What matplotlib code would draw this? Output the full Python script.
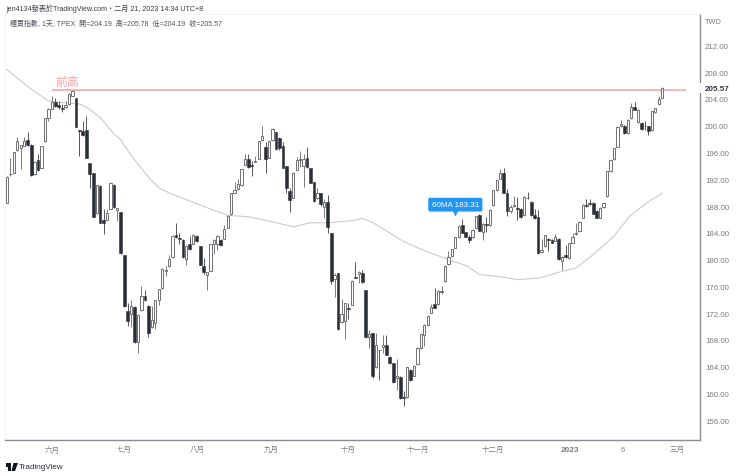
import numpy as np
import matplotlib
matplotlib.use("Agg")
import matplotlib.pyplot as plt
from matplotlib.patches import Rectangle, Polygon

plt.rcParams['font.family'] = ['Liberation Sans', 'Noto Sans CJK TC', 'DejaVu Sans']

opens = [
188.4,192.75,193.0,196.4,196.7,196.9,197.85,197.1,192.75,194.85,
193.75,197.65,201.1,202.5,203.5,203.15,202.6,202.75,203.25,204.5,
204.1,199.35,199.15,199.35,194.45,193.0,186.9,191.0,185.95,185.9,
187.6,191.1,187.4,187.15,180.7,172.25,171.9,172.9,167.75,172.4,
174.6,173.1,169.85,170.5,173.9,175.75,178.3,179.0,180.4,183.65,
183.15,182.9,180.15,182.35,182.35,183.5,182.0,179.0,177.75,178.35,
182.25,182.35,182.9,183.1,184.75,186.75,190.0,190.5,191.1,194.15,
195.1,194.1,194.65,195.1,197.9,196.75,195.25,197.85,199.0,198.1,
197.0,194.0,190.25,189.25,193.4,194.9,194.0,195.25,193.75,191.65,
189.15,189.9,187.9,188.6,183.9,177.15,177.95,170.65,170.8,172.75,
173.2,177.4,177.9,178.05,175.45,168.45,168.95,163.9,166.55,166.95,
167.3,165.45,164.55,162.3,162.45,159.4,159.4,163.55,162.65,164.4,
166.8,168.65,170.15,172.05,173.3,173.3,175.2,176.8,179.3,180.55,
181.8,183.3,185.2,184.05,183.3,183.3,184.65,186.65,184.05,185.3,
185.15,188.1,190.35,192.1,193.0,190.0,187.25,188.0,187.75,187.6,
186.6,189.25,188.6,186.65,186.35,181.1,182.0,183.1,182.95,182.8,
183.1,179.75,180.75,180.25,182.5,183.85,184.25,186.25,188.2,188.4,
188.5,187.25,186.25,187.85,189.5,193.25,195.0,196.85,199.9,200.0,
198.85,201.15,202.75,200.5,200.4,200.0,199.9,199.35,202.0,203.25,204.19]
closes = [
192.4,192.85,196.0,197.75,197.1,197.65,197.1,192.6,194.65,193.35,
196.9,201.1,202.5,203.6,203.0,202.75,202.5,203.15,204.8,205.25,
199.75,199.25,198.6,195.25,192.85,186.4,191.1,185.5,185.5,187.0,
191.5,187.85,187.65,181.0,173.0,170.75,173.1,167.7,171.75,174.5,
173.9,169.0,170.9,173.9,175.65,178.65,178.4,180.1,183.5,183.4,
183.0,180.35,182.0,181.6,183.6,182.75,179.25,178.1,178.1,182.35,
182.9,183.5,182.1,184.5,186.5,189.9,190.4,191.25,193.6,195.0,
193.9,194.0,194.75,197.65,198.5,195.1,197.75,199.5,196.5,196.6,
193.75,190.75,188.9,193.0,194.85,195.0,195.0,193.9,191.5,188.75,
190.0,188.25,188.6,184.9,176.75,177.75,169.55,171.85,173.45,172.55,
176.85,177.3,178.15,176.65,168.4,168.9,162.55,167.3,166.45,167.2,
165.8,164.55,161.65,162.55,159.25,159.25,163.9,161.95,164.15,166.8,
168.8,170.2,171.55,172.85,172.8,175.3,175.3,179.05,180.4,181.55,
183.3,185.05,183.95,183.4,182.9,184.4,186.45,184.3,185.3,185.15,
187.4,190.35,191.85,192.9,190.0,187.25,187.85,188.1,187.5,186.35,
189.35,189.15,186.6,186.15,181.0,181.5,183.6,182.85,182.5,183.35,
180.1,180.4,180.35,182.5,183.4,184.0,185.6,188.15,188.05,188.25,
186.85,186.25,187.75,188.5,193.2,194.85,196.6,199.85,200.25,198.9,
200.85,202.75,202.4,202.4,199.5,199.9,199.15,202.15,202.6,204.0,205.57]
highs = [
192.5,195.25,196.0,198.25,197.1,198.25,199.0,197.25,194.75,195.75,
197.0,201.1,202.6,204.4,204.1,203.75,203.25,203.75,204.85,205.35,
204.1,199.35,200.75,201.5,194.45,193.0,191.1,191.1,187.5,187.5,
191.6,191.25,187.75,187.15,180.75,173.5,174.0,173.0,171.9,176.1,
175.5,173.25,173.0,174.0,175.65,178.75,179.1,180.75,183.6,185.4,
184.0,183.0,182.1,183.5,183.85,183.6,182.0,180.25,178.1,182.35,
183.0,183.6,183.0,185.1,186.6,190.0,191.6,192.0,193.6,195.75,
195.85,194.75,195.5,197.75,200.0,197.5,197.9,199.6,199.1,198.25,
197.6,194.0,190.75,193.1,195.35,196.25,195.75,196.75,193.75,191.65,
190.75,190.0,189.0,189.6,183.9,178.0,178.05,174.15,173.55,173.55,
176.95,179.7,178.3,178.4,175.45,169.45,169.05,168.95,166.55,168.65,
168.65,165.55,164.55,165.15,162.55,160.3,164.0,163.65,164.25,166.9,
168.9,170.3,171.65,173.4,175.8,175.4,176.05,179.15,181.3,181.65,
183.4,185.15,186.05,184.15,183.65,184.55,186.55,186.8,185.4,186.3,
187.55,190.45,191.95,193.5,193.75,190.6,188.1,189.5,189.4,187.7,
189.45,190.1,188.7,187.5,187.4,183.1,183.7,183.25,183.1,183.85,
183.2,180.5,182.1,182.5,183.9,185.4,185.7,188.25,189.1,189.0,
188.6,187.35,187.85,188.6,193.3,194.95,196.7,199.95,200.9,200.1,
200.95,203.4,203.6,202.5,200.6,200.75,200.0,202.25,202.7,204.4,205.78]
lows = [
188.4,192.5,192.9,196.25,193.5,196.9,197.0,192.5,192.65,193.25,
193.65,197.6,200.75,202.5,202.75,202.5,202.1,202.7,203.15,204.4,
199.75,195.5,198.5,195.2,190.75,186.35,186.75,185.5,183.85,185.85,
187.5,187.75,185.75,180.9,172.9,170.1,169.9,167.6,166.1,172.25,
173.75,168.35,169.75,169.6,173.25,175.65,177.5,178.9,180.25,183.25,
182.25,180.25,179.15,181.5,182.25,182.65,179.15,177.9,175.5,178.25,
180.9,181.5,182.0,183.0,184.75,186.65,189.9,190.35,191.0,194.1,
193.75,192.5,194.6,195.0,197.85,193.0,195.15,197.75,196.4,196.4,
193.7,189.9,187.15,189.2,193.35,193.9,190.9,193.75,191.4,188.65,
189.0,188.0,186.15,184.0,176.35,174.35,169.45,170.55,168.15,171.05,
173.15,177.3,176.55,176.55,168.3,166.8,162.3,163.8,161.95,166.05,
165.75,164.45,161.55,160.55,159.15,158.15,159.3,161.8,162.55,164.3,
166.7,167.05,170.05,171.95,172.7,173.2,174.8,176.7,179.2,180.45,
181.7,183.2,183.9,183.3,182.4,183.2,184.55,184.2,182.9,184.05,
185.05,188.0,190.25,192.0,189.9,186.5,186.9,187.9,185.9,186.25,
186.5,189.0,186.5,186.0,180.85,181.0,181.9,181.35,182.4,182.7,
180.0,178.4,180.25,180.15,182.4,183.65,184.15,186.15,187.9,188.15,
186.75,186.15,186.15,187.75,189.4,193.15,194.9,196.75,199.8,198.8,
198.75,201.05,202.3,200.4,199.4,199.4,198.6,199.25,201.9,203.15,204.19]

ma_index = [0,3.9,7.6,12,15,18,21,23.1,27,30.8,32.8,35.7,38.6,41.5,44.4,47.3,50.2,53,58,64,70,76,83,
            88,93,100,103,106,110,115,120,127.6,133.4,137,142,148,154.5,161,165,170,176,180.6,185.6,190]
ma_values = [208.4,206.75,205.25,203.75,203.5,203.4,203.25,202.75,201.25,198.9,198.0,195.75,193.9,192.0,
             190.6,189.9,189.3,188.75,187.75,186.6,186.4,185.75,184.9,185.5,185.5,185.8,186.15,185.55,
             184.3,182.7,181.55,180.05,179.05,177.75,177.5,177.0,177.25,178.25,178.75,180.75,183.5,186.5,188.5,189.9]

y_ticks = [156,160,164,168,172,176,180,184,188,192,196,200,204,208,212]
x_tick_pos = [13.05,33.9,55.1,76.5,98.9,119.2,140.9,163.2,178.6,194.3]
x_tick_labels = ['六月','七月','八月','九月','十月','十一月','十二月','2023','6','三月']
last_price = 205.57
prev_high = 205.35
ma_callout = '60MA 183.31'

W, H = 740, 477
fig = plt.figure(figsize=(W/100, H/100), dpi=100, facecolor='white')
L, R, T, B = 5, 699.5, 15, 441
ax = fig.add_axes([L/W, 1-B/H, (R-L)/W, (B-T)/H])
ax.set_xlim(-0.58, 200.8)
ax.set_ylim(153.03, 216.7)

GREY = '#787b86'
DARK = '#2a2e39'
idx = np.arange(len(opens))
o, c, h, l = map(np.array, (opens, closes, highs, lows))
up = c >= o

# moving average and previous high
ax.plot(ma_index, ma_values, color='#cbcbcb', lw=0.8, zorder=1)
ax.plot([13, 196.9], [prev_high, prev_high], color='#f6b0b0', lw=1.3, zorder=1.5, solid_capstyle='butt')
ax.text(14.0, 206.6, '前高', color='#f5a3a3', fontsize=8.6, va='center', ha='left')

# candles
ax.vlines(idx[up], l[up], h[up], color='#7a7a7c', lw=0.7, zorder=2)
ax.vlines(idx[~up], l[~up], h[~up], color='#55565c', lw=0.7, zorder=2)
ax.bar(idx[up], np.maximum(c[up]-o[up], 0.1), bottom=o[up], width=0.66, facecolor='white',
       edgecolor='#707074', linewidth=0.7, zorder=3)
ax.bar(idx[~up], np.maximum(o[~up]-c[~up], 0.1), bottom=c[~up], width=0.8, facecolor=DARK,
       edgecolor=DARK, linewidth=0.4, zorder=3)

# callout
ax.plot([130], [187.0], marker='v', ms=5, color='#2196f3', mec='none', zorder=5)
ax.text(130, 188.2, ma_callout, color='white', fontsize=5.8, ha='center', va='center', zorder=6,
        bbox=dict(boxstyle='round,pad=0.42,rounding_size=0.2', fc='#2196f3', ec='none'))

# axes
for s in ('left', 'top'):
    ax.spines[s].set_color('#f0f3fa')
    ax.spines[s].set_linewidth(0.6)
for s in ('right', 'bottom'):
    ax.spines[s].set_color('#8a8d96')
    ax.spines[s].set_linewidth(1.0)
ax.yaxis.tick_right()
ax.set_yticks(y_ticks)
ax.set_yticklabels([f'{v:.2f}' for v in y_ticks])
ax.tick_params(axis='y', length=0, pad=4, labelsize=5.7, labelcolor=GREY)
ax.set_xticks(x_tick_pos)
ax.set_xticklabels(x_tick_labels)
ax.tick_params(axis='x', length=0, pad=4.5, labelsize=5.4, labelcolor=GREY)
ax.get_xticklabels()[7].set_fontweight('bold')
ax.get_xticklabels()[7].set_fontsize(5.9)

def rect(x0, y0, x1, y1, **kw):
    fig.add_artist(Rectangle((x0/W, 1-y1/H), (x1-x0)/W, (y1-y0)/H, transform=fig.transFigure, ec='none', **kw))

# gap in the axis line behind the last price label
rect(698, 84, 701.5, 94, fc='white', zorder=9)
fig.text(705/W, 1-89.5/H, f'{last_price:.2f}', fontsize=5.8, fontweight='bold', color='#333640',
         va='center', ha='left', zorder=10)

# header text
fig.text(6/W, 1-9/H, 'jen4134發表於TradingView.com・二月 21, 2023 14:34 UTC+8', fontsize=5.15,
         color='#3a3d46', va='center', ha='left')
fig.text(10.5/W, 1-24.5/H, '櫃買指數, 1天, TPEX  開=204.19  高=205.78  低=204.19  收=205.57', fontsize=5.0,
         color='#50535e', va='center', ha='left')
fig.text(705/W, 1-23/H, 'TWD', fontsize=5.3, color=GREY, va='center', ha='left')

# footer logo
logo = '#131722'
rect(5.5, 464, 11, 468, fc=logo)
rect(7.5, 464, 10.5, 472, fc=logo)
fig.add_artist(Polygon([(13.5/W, 1-464/H), (18/W, 1-464/H), (15/W, 1-472/H), (11.5/W, 1-472/H)],
                       fc=logo, ec='none', transform=fig.transFigure))
fig.text(19/W, 1-467.5/H, 'TradingView', fontsize=5.9, color='#2a2e39', va='center', ha='left')

fig.savefig('out.png', dpi=100, facecolor='white')
